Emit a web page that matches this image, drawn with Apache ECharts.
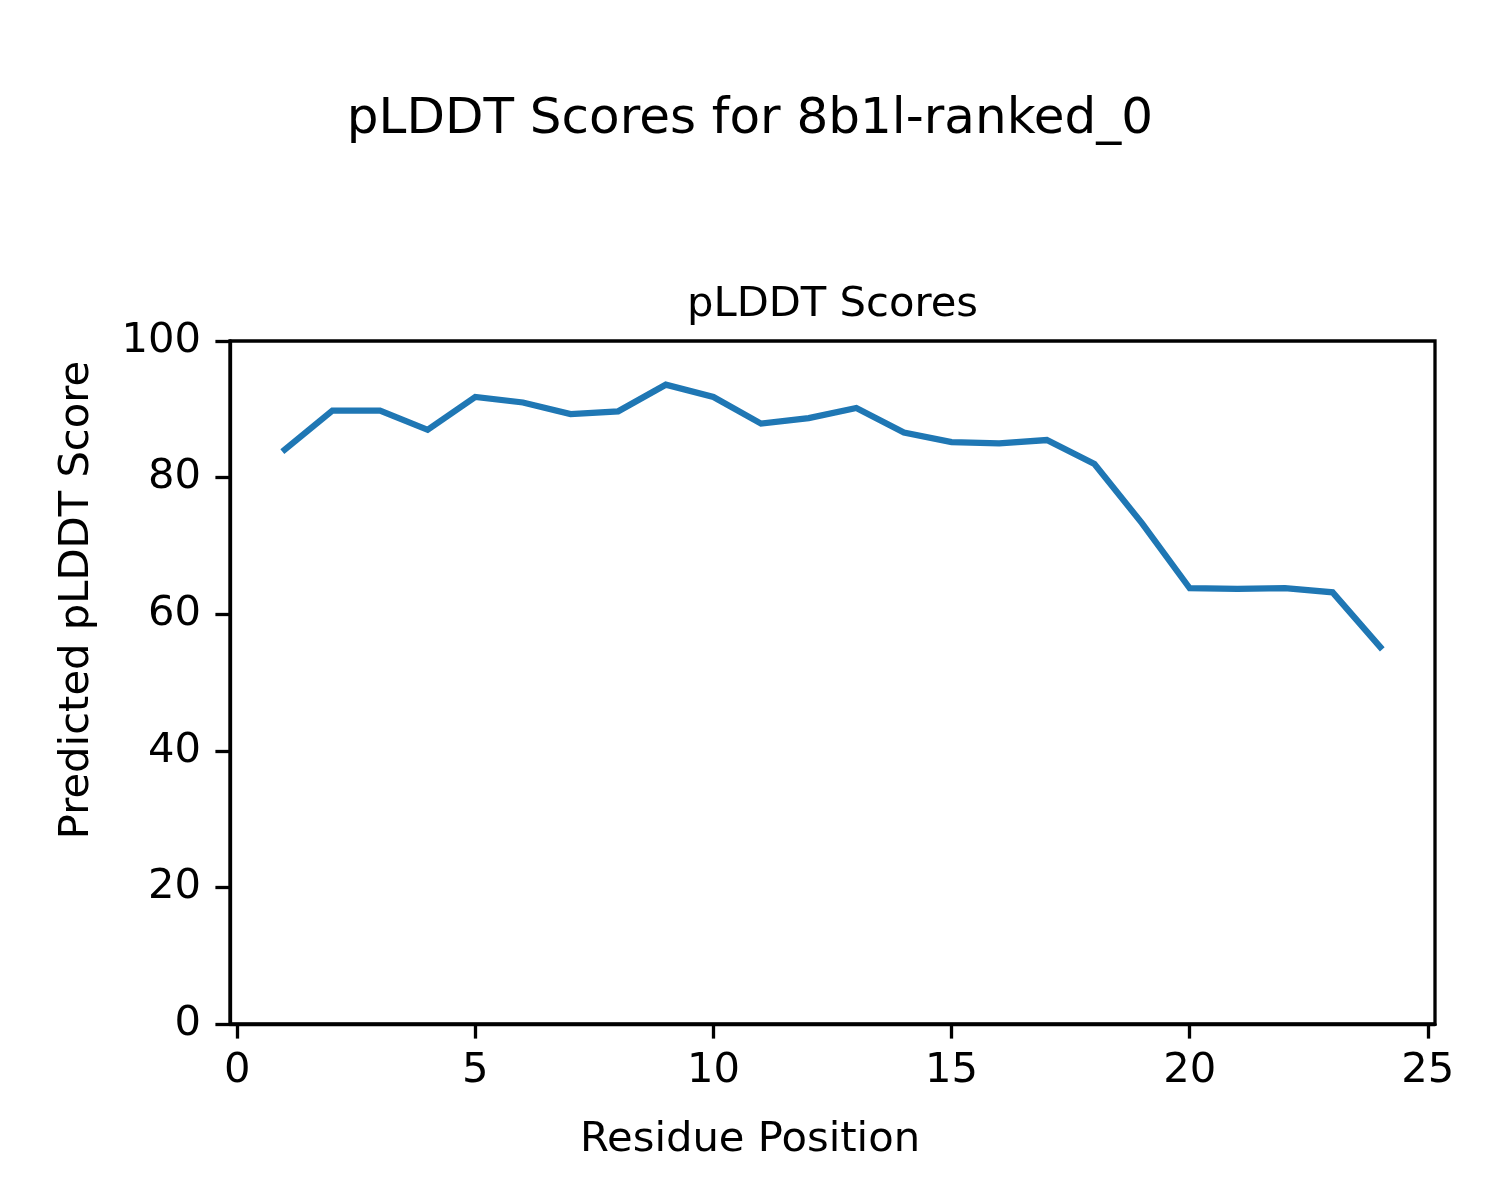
<!DOCTYPE html>
<html>
<head>
<meta charset="utf-8">
<script src="https://cdn.jsdelivr.net/npm/echarts@6/dist/echarts.min.js"></script>
<style>
  html, body { margin: 0; padding: 0; background: #ffffff; }
  #chart { width: 1500px; height: 1200px; }
</style>
</head>
<body>
<div id="chart"></div>
<script>
const residuePositions = [1, 2, 3, 4, 5, 6, 7, 8, 9, 10, 11, 12, 13, 14, 15, 16, 17, 18, 19, 20, 21, 22, 23, 24];
const plddtScores = [84.1, 89.8, 89.8, 87.0, 91.8, 91.0, 89.3, 89.7, 93.6, 91.8, 87.9, 88.7, 90.2, 86.6, 85.2, 85.0, 85.5, 82.0, 73.3, 63.8, 63.7, 63.8, 63.2, 55.2];
const xTickValues = [0, 5, 10, 15, 20, 25];
const yTickValues = [0, 20, 40, 60, 80, 100];

const FONT = 'DejaVu Sans';
const chart = echarts.init(document.getElementById('chart'), null, { renderer: 'canvas' });

const seriesData = residuePositions.map((x, i) => [x, plddtScores[i]]);

chart.setOption({
  animation: false,
  backgroundColor: '#ffffff',
  textStyle: { fontFamily: FONT },
  grid: {
    left: 230, right: 65, top: 341, bottom: 176,
    show: true, borderColor: '#000000', borderWidth: 3.3,
    containLabel: false
  },
  graphic: [
    { type: 'text', x: 750, y: 120,
      style: { text: 'pLDDT Scores for 8b1l-ranked_0', font: '50px "DejaVu Sans"', fill: '#000',
               textAlign: 'center', textVerticalAlign: 'middle' } },
    { type: 'text', x: 832.5, y: 305,
      style: { text: 'pLDDT Scores', font: '41.7px "DejaVu Sans"', fill: '#000',
               textAlign: 'center', textVerticalAlign: 'middle' } },
    { type: 'text', x: 750, y: 1140,
      style: { text: 'Residue Position', font: '41.7px "DejaVu Sans"', fill: '#000',
               textAlign: 'center', textVerticalAlign: 'middle' } },
    { type: 'text', x: 77, y: 600, rotation: Math.PI / 2,
      style: { text: 'Predicted pLDDT Score', font: '41.7px "DejaVu Sans"', fill: '#000',
               textAlign: 'center', textVerticalAlign: 'middle' } }
  ],
  xAxis: {
    type: 'value',
    min: -0.15,
    max: 25.15,
    splitLine: { show: false },
    axisLine: { show: true, onZero: false, lineStyle: { color: '#000', width: 3.3 } },
    axisTick: { show: true, inside: false, length: 14.6, customValues: xTickValues,
                lineStyle: { color: '#000', width: 3.3 } },
    axisLabel: { show: true, customValues: xTickValues, margin: 26,
                 fontFamily: FONT, fontSize: 41.7, color: '#000' }
  },
  yAxis: {
    type: 'value',
    min: 0,
    max: 100,
    interval: 20,
    splitLine: { show: false },
    axisLine: { show: true, onZero: false, lineStyle: { color: '#000', width: 3.3 } },
    axisTick: { show: true, inside: false, length: 14.6, lineStyle: { color: '#000', width: 3.3 } },
    axisLabel: { show: true, margin: 29, fontFamily: FONT, fontSize: 41.7, color: '#000' }
  },
  series: [{
    type: 'line',
    data: seriesData,
    showSymbol: false,
    symbol: 'none',
    lineStyle: { color: '#1f77b4', width: 6.25, cap: 'square', join: 'miter' },
    itemStyle: { color: '#1f77b4' }
  }]
});
</script>
</body>
</html>
